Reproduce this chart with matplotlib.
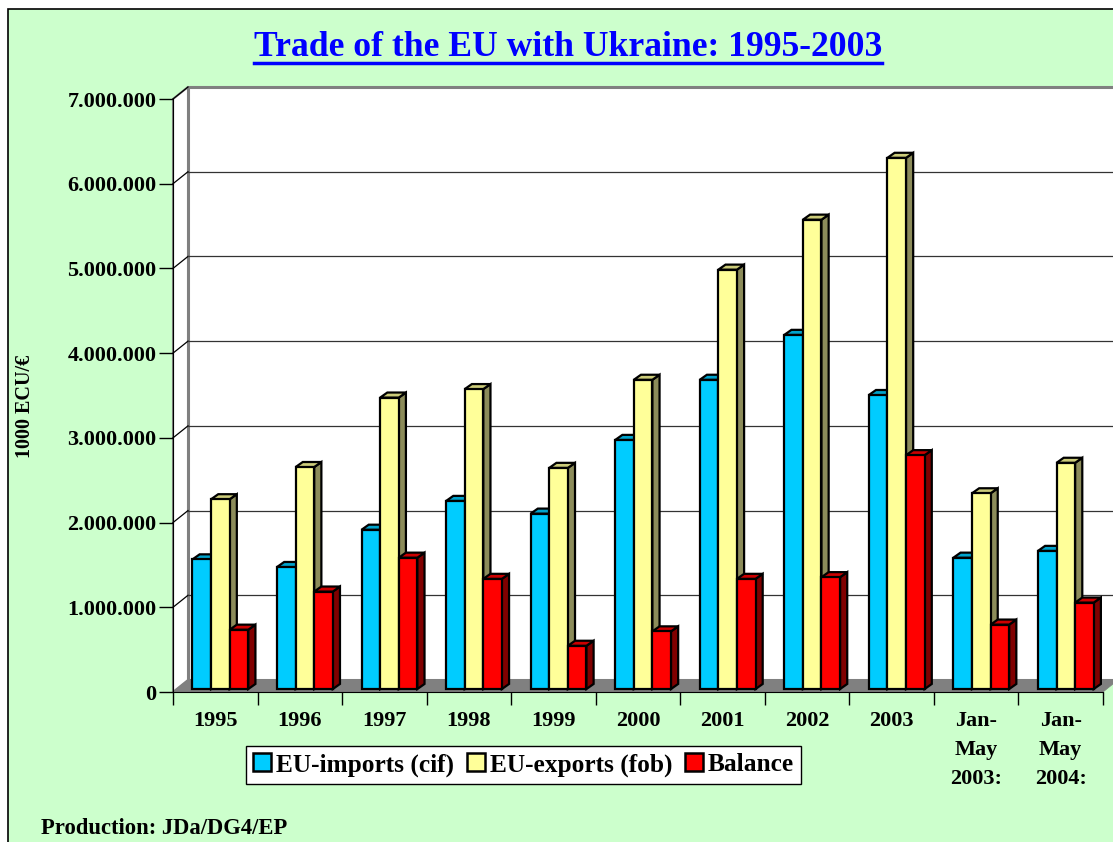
import numpy as np
import matplotlib.pyplot as plt
from matplotlib.patches import Polygon, Rectangle, Patch
from matplotlib.lines import Line2D

plt.rcParams['font.family'] = ['Liberation Serif', 'DejaVu Serif']
plt.rcParams['font.weight'] = 'bold'

categories = ["1995", "1996", "1997", "1998", "1999", "2000", "2001", "2002",
              "2003", "Jan-\nMay\n2003:", "Jan-\nMay\n2004:"]
# values in 1000 ECU/EUR
imports = [1530000, 1440000, 1880000, 2220000, 2070000, 2940000,
           3650000, 4180000, 3470000, 1550000, 1630000]
exports = [2240000, 2620000, 3440000, 3540000, 2610000, 3650000,
           4950000, 5540000, 6270000, 2310000, 2670000]
balance = [700000, 1150000, 1550000, 1300000, 510000, 680000,
           1300000, 1320000, 2760000, 760000, 1020000]
series = [("EU-imports (cif)", imports, "#00CCFF", "#0099BB", "#00A3CC"),
          ("EU-exports (fob)", exports, "#FFFF99", "#8C8C5A", "#CCCC7A"),
          ("Balance", balance, "#FF0000", "#800000", "#CC0000")]
yticks = np.arange(0, 7000001, 1000000)

W, H = 1113, 842
fig = plt.figure(figsize=(W / 100, H / 100), dpi=100, facecolor="white")
fig.patches.append(Rectangle((8 / W, -0.1), 1.2, 1 - 9 / H + 0.1, transform=fig.transFigure,
                             facecolor="#CCFFCC", edgecolor="black", lw=1.2, zorder=-10))

ax = fig.add_axes([173 / W, 1 - 692 / H, 930 / W, 593 / H])
ax.set_xlim(-0.5, len(categories) - 0.5)
ax.set_ylim(0, 7000000)
ax.patch.set_visible(False)
for s in ["top", "right"]:
    ax.spines[s].set_visible(False)
ax.spines["left"].set_color("black")
ax.spines["bottom"].set_color("black")
ax.spines["left"].set_zorder(10)
ax.spines["bottom"].set_zorder(10)

# wall depth in data units
DX = 15 / 84.55
DY = 12 / 84.7 * 1e6
x0, x1 = -0.5, len(categories) - 0.5
top = 7000000

ax.add_patch(Polygon([(x0 + DX, DY), (x1 + DX, DY), (x1 + DX, top + DY), (x0 + DX, top + DY)],
                     closed=True, facecolor="white", edgecolor="#808080", lw=2.2,
                     clip_on=False, zorder=1))
ax.add_patch(Polygon([(x0, 0), (x0 + DX, DY), (x0 + DX, top + DY), (x0, top)],
                     closed=True, facecolor="white", edgecolor="#808080", lw=1.5,
                     clip_on=False, zorder=1))
for t in yticks[1:]:
    ax.plot([x0, x0 + DX], [t, t + DY], color="black", lw=0.9, clip_on=False, zorder=2)
    if t < top:
        ax.plot([x0 + DX, x1 + DX], [t + DY, t + DY], color="#333333", lw=0.9,
                clip_on=False, zorder=2)
ax.add_patch(Polygon([(x0, 0), (x1, 0), (x1 + DX, DY), (x0 + DX, DY)], closed=True,
                     facecolor="#808080", edgecolor="#808080", lw=0.5, clip_on=False, zorder=2))

# bars
bw = 0.22
shift = 0.06
base = 35000
bdx = 0.085
bdy = 60000
z = 3
for i in range(len(categories)):
    for k, (name, vals, fc, side, topc) in enumerate(series):
        xc = i + (k - 1) * bw + shift
        v = vals[i]
        xl, xr = xc - bw / 2, xc + bw / 2
        ax.bar(xc, v, bottom=base, width=bw, color=fc, edgecolor="black", lw=1.6,
               zorder=z + 0.2)
        ax.add_patch(Polygon([(xr, base), (xr + bdx, base + bdy), (xr + bdx, base + v + bdy),
                              (xr, base + v)], closed=True, facecolor=side,
                             edgecolor="black", lw=1.6, zorder=z))
        ax.add_patch(Polygon([(xl, base + v), (xl + bdx, base + v + bdy),
                              (xr + bdx, base + v + bdy), (xr, base + v)], closed=True,
                             facecolor=topc, edgecolor="black", lw=1.6, zorder=z))
        z += 0.5

ax.set_yticks(yticks)
ax.set_yticklabels([f"{int(v):,}".replace(",", ".") for v in yticks], fontsize=16,
                   fontweight="bold")
ax.tick_params(axis="y", direction="out", length=10, width=1, color="black", pad=2)

ax.set_xticks(np.arange(-0.5, len(categories), 1.0))
ax.set_xticklabels([])
ax.tick_params(axis="x", which="major", direction="out", length=9, width=1, color="black")
ax.set_xticks(np.arange(len(categories)), minor=True)
ax.set_xticklabels(categories, minor=True, fontsize=16, fontweight="bold",
                   linespacing=1.6, va="top")
ax.tick_params(axis="x", which="minor", length=0, pad=14)

fig.text(25 / W, 1 - 406 / H, "1000 ECU/€", rotation=90, ha="center", va="center",
         fontsize=14.5, fontweight="bold")
fig.text(41 / W, 1 - 829 / H, "Production: JDa/DG4/EP", ha="left", va="center",
         fontsize=16.3, fontweight="bold")

title = fig.text(568 / W, 1 - 47 / H, "Trade of the EU with Ukraine: 1995-2003",
                 ha="center", va="center", fontsize=25.7, fontweight="bold", color="#0000FF")

handles = [Patch(facecolor=fc, edgecolor="black", lw=1.8) for _, _, fc, _, _ in series]
fig.legend(handles, [s[0] for s in series], loc="center", bbox_to_anchor=(523.5 / W, 1 - 765 / H),
           ncol=3, frameon=True, fancybox=False, edgecolor="black", facecolor="white",
           framealpha=1, prop={"size": 18.3, "weight": "bold"}, handlelength=0.7,
           handleheight=0.7, handletextpad=0.2, columnspacing=0.5, borderpad=0.3,
           borderaxespad=0)

fig.canvas.draw()
bb = title.get_window_extent()
uy = bb.y0 + 1
fig.lines.append(Line2D([bb.x0 / W, bb.x1 / W], [uy / H, uy / H], transform=fig.transFigure,
                        color="#0000FF", lw=2.5))

fig.savefig("out.png", dpi=100, facecolor="white")
